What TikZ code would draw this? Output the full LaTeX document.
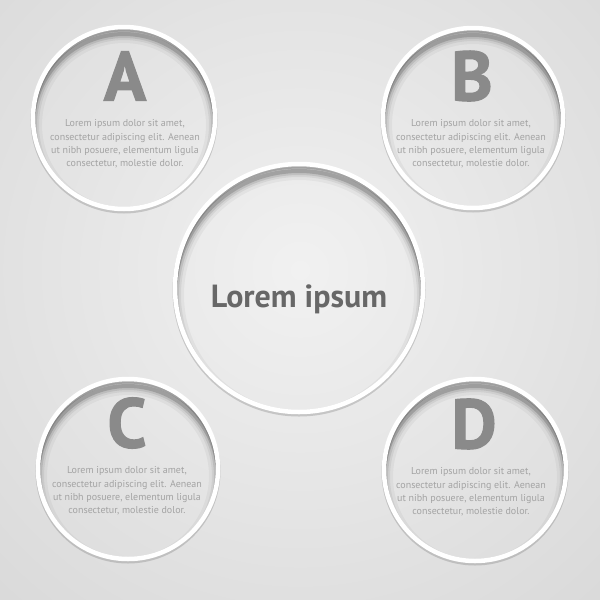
\documentclass[tikz,border=0pt]{standalone}
\usepackage{fontspec}
\setmainfont{PT Sans}
\definecolor{bgin}{HTML}{F1F1F1}
\definecolor{bgmid}{HTML}{D9D9D9}
\definecolor{bgout}{HTML}{C8C8C8}
\definecolor{letgray}{HTML}{8A8A8A}
\definecolor{txtgray}{HTML}{A3A3A3}
\definecolor{titlegray}{HTML}{676767}
\pgfdeclareradialshading{bgglow}{\pgfpoint{0bp}{0bp}}{color(0bp)=(bgin); color(25bp)=(bgmid); color(50bp)=(bgout)}
\tikzset{
	ring/.style={circle, inner sep=0pt, minimum size=2*#1, draw=white, line width=4.5pt,
		preaction={draw=black!55, opacity=.3, line width=5pt, transform canvas={yshift=-2pt}},
		path picture={
			\foreach \w/\o in {18/.04,12/.06,8/.09,4/.16}
				\draw[black, opacity=\o, line width=\w pt]
					([yshift=-7pt]path picture bounding box.center) circle[radius=#1pt];
		}},
	letter/.style={font=\fontsize{70}{70}\selectfont\bfseries\addfontfeature{FakeBold=1.6}, text=letgray, inner sep=0pt},
	blurb/.style={font=\fontsize{10}{13.3}\selectfont, text=txtgray, align=center, inner sep=0pt},
	title/.style={font=\fontsize{32}{32}\selectfont\bfseries, text=titlegray, inner sep=0pt}
}
\newcommand{\lorem}{Lorem ipsum dolor sit amet,\\consectetur adipiscing elit. Aenean\\ut nibh posuere, elementum ligula\\consectetur, molestie dolor.}
\begin{document}
\begin{tikzpicture}[x=1pt,y=-1pt]
		\useasboundingbox (0,0) rectangle (600,600);
		% background
		\begin{scope}
			\clip (0,0) rectangle (600,600);
			\shade[shading=bgglow] (300,270) circle (460);
		\end{scope}
		% rings
		\node[ring=91] (ringA) at (124,118) {};
		\node[ring=90] (ringB) at (473,118) {};
		\node[ring=90] (ringC) at (128,469) {};
		\node[ring=91] (ringD) at (475,470) {};
		\node[ring=124] (hub) at (299,288) {};
		% letters and texts
		\node[letter] (lettA) at (125,76) {A};
		\node[letter] (lettB) at (472,76) {B};
		\node[letter] (lettC) at (127,423) {C};
		\node[letter] (lettD) at (474,424) {D};
		\node[blurb] (textA) at (125,144) {\lorem};
		\node[blurb] (textB) at (471,144) {\lorem};
		\node[blurb] (textC) at (127,491) {\lorem};
		\node[blurb] (textD) at (471,492) {\lorem};
		\node[title, anchor=base] (hubtext) at (299,307) {Lorem ipsum};
\end{tikzpicture}
\end{document}
